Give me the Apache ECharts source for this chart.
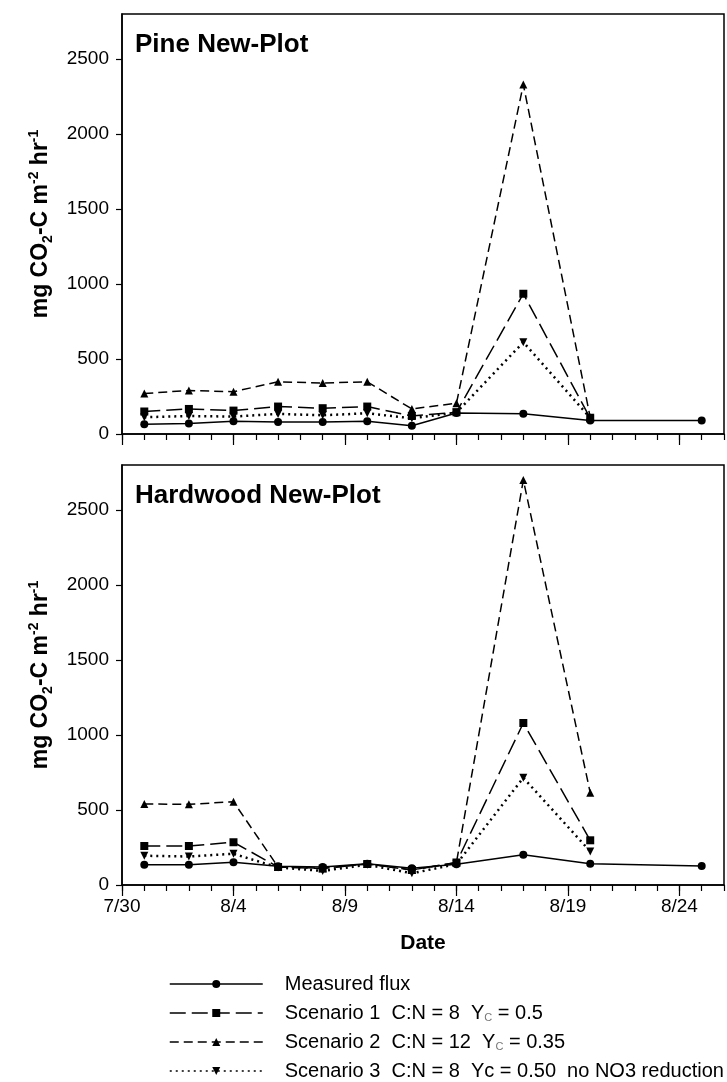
<!DOCTYPE html>
<html>
<head>
<meta charset="utf-8">
<script src="https://cdn.jsdelivr.net/npm/echarts@6/dist/echarts.min.js"></script>
<style>
  html, body { margin: 0; padding: 0; background: #fff; }
  #chart { width: 727px; height: 1082px; }
</style>
</head>
<body>
<div id="chart"></div>
<script>
// sampling dates (days since 7/30 are derived from these)
const dates = ['7/31', '8/2', '8/4', '8/6', '8/8', '8/10', '8/12', '8/14', '8/17', '8/20', '8/25'];
const tickLabels = ['7/30', '8/4', '8/9', '8/14', '8/19', '8/24'];

// Pine New-Plot
const pineMeasured = [65, 70, 85, 80, 80, 85, 55, 140, 135, 90, 90];
const pineS1 = [150, 167, 156, 183, 172, 183, 120, 145, 935, 105];
const pineS2 = [270, 290, 282, 348, 340, 348, 167, 205, 2330, 110];
const pineS3 = [112, 120, 116, 134, 125, 138, 105, 143, 612, 108];

// Hardwood New-Plot
const hardMeasured = [135, 135, 152, 125, 120, 141, 112, 139, 202, 141, 126];
const hardS1 = [260, 260, 285, 120, 110, 140, 100, 150, 1080, 298];
const hardS2 = [540, 538, 555, 120, 112, 140, 100, 150, 2700, 615];
const hardS3 = [195, 190, 208, 117, 94, 135, 78, 139, 715, 224];

const names = ['Measured flux', 'Scenario 1', 'Scenario 2', 'Scenario 3'];
const FONT = '"Liberation Sans", Arial, sans-serif';
const SP2 = '\u00a0\u00a0';

function dayOf(s) {
  const [m, d] = s.split('/').map(Number);
  return m === 7 ? d - 30 : d + 1;
}

function pairs(vals) {
  return vals.map((v, i) => [dayOf(dates[i]), v]);
}

const styles = [
  { symbol: 'circle', rotate: 0, type: 'solid', width: 1.5 },
  { symbol: 'rect', rotate: 0, type: [16, 6], width: 1.5 },
  { symbol: 'triangle', rotate: 0, type: [9, 5], width: 1.5 },
  { symbol: 'triangle', rotate: 180, type: [2, 4], width: 2.5 },
];

function makeSeries(grid, sets) {
  return sets.map((vals, k) => ({
    name: names[k],
    type: 'line',
    xAxisIndex: grid * 2,
    yAxisIndex: grid,
    data: pairs(vals),
    symbol: styles[k].symbol,
    symbolRotate: styles[k].rotate,
    symbolSize: 8,
    showSymbol: true,
    itemStyle: { color: '#000' },
    lineStyle: { color: '#000', width: styles[k].width, type: styles[k].type },
    z: 3,
  }));
}

const majorVals = [0, 5, 10, 15, 20, 25];

function xAxes(grid, withLabels) {
  return [
    {
      type: 'value', gridIndex: grid, position: 'bottom', min: 0, max: 27, interval: 1,
      axisLine: { show: true, lineStyle: { color: '#000', width: 1.5 } },
      axisTick: { show: true, length: 6, lineStyle: { color: '#000', width: 1.2 } },
      axisLabel: { show: false },
      splitLine: { show: false },
    },
    {
      type: 'value', gridIndex: grid, position: 'bottom', min: 0, max: 27,
      axisLine: { show: false },
      axisTick: { show: true, length: 11, customValues: majorVals, lineStyle: { color: '#000', width: 1.2 } },
      axisLabel: {
        show: withLabels, customValues: majorVals, margin: 12,
        fontSize: 19, fontFamily: FONT, color: '#000',
        formatter: (v) => tickLabels[Math.round(v / 5)] || '',
      },
      splitLine: { show: false },
    },
  ];
}

function yAxis(grid) {
  return {
    type: 'value', gridIndex: grid, min: 0, max: 2800, interval: 500,
    axisLine: { show: true, lineStyle: { color: '#000', width: 1.5 } },
    axisTick: { show: true, length: 6, lineStyle: { color: '#000', width: 1.2 } },
    axisLabel: {
      margin: 13, fontSize: 19, fontFamily: FONT, color: '#000',
      showMaxLabel: false,
      formatter: (v) => (v % 500 === 0 ? String(v) : ''),
    },
    splitLine: { show: false },
  };
}

const yName = '{b|mg CO}{sub|2}{b|-C m}{sup|-2}{b| hr}{sup|-1}';
const yRich = {
  b: { fontSize: 23, fontWeight: 'bold', fontFamily: FONT, lineHeight: 28, color: '#000' },
  sub: { fontSize: 14, fontWeight: 'bold', fontFamily: FONT, lineHeight: 16, verticalAlign: 'bottom', color: '#000' },
  sup: { fontSize: 14, fontWeight: 'bold', fontFamily: FONT, lineHeight: 16, verticalAlign: 'top', color: '#000' },
};

const legendText = {
  'Measured flux': '{sp|}{t|Measured flux}',
  'Scenario 1': '{sp|}{t|Scenario 1' + SP2 + 'C:N = 8' + SP2 + 'Y}{s|C}{t| = 0.5}',
  'Scenario 2': '{sp|}{t|Scenario 2' + SP2 + 'C:N = 12' + SP2 + 'Y}{s|C}{t| = 0.35}',
  'Scenario 3': '{sp|}{t|Scenario 3' + SP2 + 'C:N = 8' + SP2 + 'Yc = 0.50' + SP2 + 'no NO3 reduction}',
};

const chart = echarts.init(document.getElementById('chart'), null, { renderer: 'canvas' });

chart.setOption({
  animation: false,
  backgroundColor: '#fff',
  grid: [
    { left: 122, top: 14, width: 602, height: 420, show: true, borderColor: '#000', borderWidth: 1.5, backgroundColor: 'transparent' },
    { left: 122, top: 465, width: 602, height: 420, show: true, borderColor: '#000', borderWidth: 1.5, backgroundColor: 'transparent' },
  ],
  xAxis: [...xAxes(0, false), ...xAxes(1, true)],
  yAxis: [yAxis(0), yAxis(1)],
  legend: {
    orient: 'vertical',
    left: 169,
    top: 974,
    padding: 0,
    itemWidth: 93,
    itemHeight: 10,
    itemGap: 9,
    selectedMode: false,
    data: names,
    lineStyle: { width: 1.5 },
    formatter: (n) => legendText[n],
    textStyle: {
      color: '#000',
      fontFamily: FONT,
      fontSize: 20,
      lineHeight: 20,
      rich: {
        sp: { width: 17 },
        t: { fontSize: 20, fontFamily: FONT, color: '#000', lineHeight: 20 },
        s: { fontSize: 11, fontFamily: FONT, color: '#777', lineHeight: 12, verticalAlign: 'bottom' },
      },
    },
  },
  graphic: [
    { type: 'text', left: 135, top: 32, style: { text: 'Pine New-Plot', font: 'bold 26px ' + FONT, fill: '#000' } },
    { type: 'text', left: 135, top: 483, style: { text: 'Hardwood New-Plot', font: 'bold 26px ' + FONT, fill: '#000' } },
    {
      type: 'text', x: 41, y: 224, rotation: Math.PI / 2,
      style: { text: yName, rich: yRich, align: 'center', verticalAlign: 'middle' },
    },
    {
      type: 'text', x: 41, y: 675, rotation: Math.PI / 2,
      style: { text: yName, rich: yRich, align: 'center', verticalAlign: 'middle' },
    },
    {
      type: 'text', x: 423, y: 943,
      style: { text: 'Date', font: 'bold 21px ' + FONT, fill: '#000', align: 'center', verticalAlign: 'middle' },
    },
  ],
  series: [
    ...makeSeries(0, [pineMeasured, pineS1, pineS2, pineS3]),
    ...makeSeries(1, [hardMeasured, hardS1, hardS2, hardS3]),
  ],
});
</script>
</body>
</html>
